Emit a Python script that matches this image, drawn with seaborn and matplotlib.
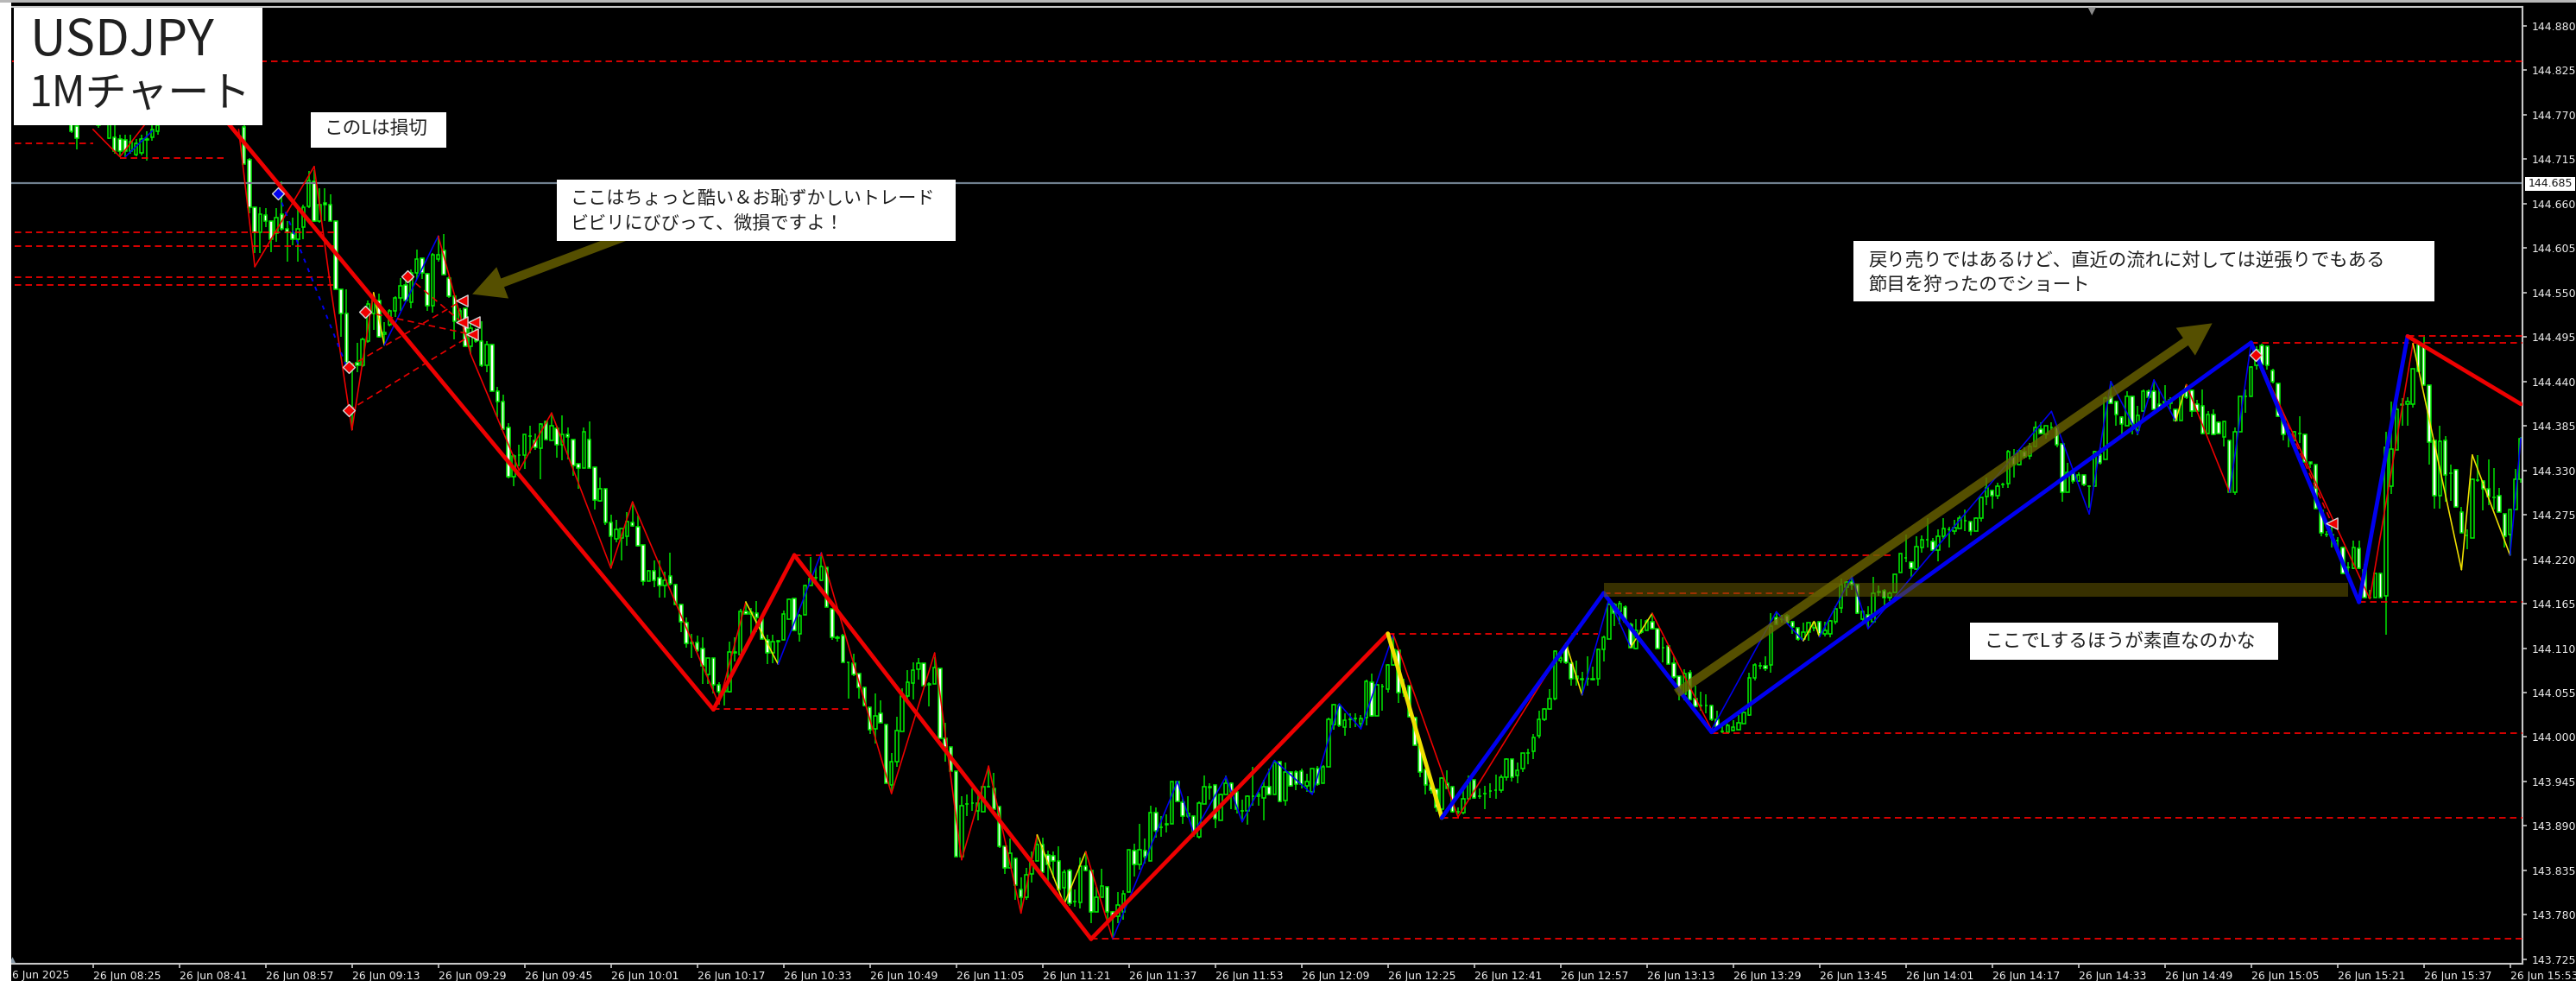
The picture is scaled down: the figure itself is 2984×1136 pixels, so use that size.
import numpy as np
import pandas as pd
import seaborn as sns
import matplotlib
matplotlib.use("Agg")
import matplotlib.pyplot as plt
from matplotlib.patches import Rectangle, FancyArrowPatch

# ---- data: prices given in points, price = 143 + points / 1000 ----
left_idx = [12, 13, 17, 19, 20, 21, 22, 23, 24, 25, 26, 27, 28]
left_open = [1770, 1756, 1770, 1741, 1742, 1740, 1739, 1725, 1721, 1723, 1739, 1742, 1750]
left_close = [1750, 1741, 1757, 1770, 1725, 1725, 1725, 1737, 1735, 1740, 1740, 1752, 1757]
left_high = [1775, 1770, 1775, 1775, 1770, 1745, 1745, 1745, 1740, 1745, 1750, 1758, 1765]
left_low = [1747, 1727, 1754, 1740, 1722, 1718, 1718, 1722, 1719, 1720, 1713, 1738, 1745]

first_idx = 44
open_pts = [
 1755,1714,1656,1625,1646,1638,1623,1647,1629,1623,
 1616,1631,1657,1688,1638,1661,1659,1638,1554,1524,
 1460,1463,1460,1490,1524,1540,1499,1510,1527,1543,
 1559,1538,1574,1593,1573,1534,1591,1602,1568,1546,
 1513,1531,1483,1502,1490,1460,1486,1428,1415,1383,
 1322,1349,1349,1372,1367,1357,1390,1367,1382,1362,
 1374,1368,1338,1333,1368,1334,1292,1307,1265,1245,
 1246,1248,1266,1260,1238,1193,1206,1197,1187,1199,
 1189,1164,1141,1117,1117,1109,1077,1098,1065,1056,
 1056,1104,1102,1155,1152,1153,1146,1120,1104,1118,
 1120,1146,1171,1128,1151,1188,1197,1194,1210,1159,
 1123,1125,1092,1091,1079,1061,1037,1010,1029,1015,
 941,970,1007,1051,1067,1084,1091,1065,1066,1085,
 998,988,958,852,917,918,909,908,939,936,
 914,865,838,850,811,802,831,847,867,854,
 853,847,813,835,796,795,840,835,783,802,
 814,783,778,783,808,859,842,859,847,906,
 888,891,893,945,919,902,902,877,917,937,
 941,897,929,943,932,909,909,927,927,925,
 938,929,969,921,957,957,958,940,932,961,
 943,963,1015,1039,1012,1022,1023,1016,1024,1068,
 1026,1062,1059,1089,1107,1055,1064,1024,989,960,
 941,935,911,943,938,908,906,924,947,927,
 930,933,934,934,950,973,952,961,980,982,
 1002,1022,1035,1048,1095,1113,1091,1072,1071,1072,
 1071,1072,1108,1121,1164,1155,1161,1139,1109,1132,
 1132,1143,1134,1111,1113,1091,1075,1053,1080,1048,
 1039,1039,1039,1022,1007,1006,1008,1009,1017,1027,
 1073,1088,1088,1089,1148,1146,1150,1143,1135,1121,
 1130,1135,1143,1128,1128,1143,1160,1185,1192,1189,
 1146,1151,1143,1179,1181,1172,1179,1203,1222,1216,
 1208,1235,1244,1242,1231,1248,1257,1255,1258,1268,
 1267,1255,1271,1298,1305,1299,1312,1314,1347,1337,
 1353,1348,1360,1381,1374,1383,1383,1363,1303,1326,
 1317,1324,1310,1310,1349,1344,1421,1415,1396,1385,
 1421,1380,1403,1428,1428,1412,1413,1417,1405,1392,
 1431,1429,1412,1410,1376,1399,1389,1371,1367,1303,
 1378,1421,1421,1460,1485,1483,1454,1438,1394,1372,
 1367,1376,1374,1340,1337,1280,1251,1251,1243,1235,
 1210,1209,1233,1207,1172,1173,1202,1175,1310,1355,
 1411,1412,1412,1486,1485,1435,1367,1299,1367,1326,
 1331,1278,1250,1246,1318,1317,1307,1297,1299,1276,
 1251,1282,1319]
close_pts = [
 1709,1656,1625,1647,1638,1616,1643,1629,1625,1616,
 1629,1656,1689,1638,1659,1659,1639,1554,1524,1463,
 1461,1460,1492,1536,1540,1495,1501,1527,1543,1558,
 1540,1574,1591,1574,1534,1597,1597,1572,1545,1515,
 1527,1483,1506,1490,1460,1486,1428,1415,1381,1322,
 1348,1349,1374,1372,1358,1387,1368,1385,1362,1374,
 1371,1336,1333,1378,1333,1293,1307,1266,1248,1257,
 1258,1267,1261,1237,1193,1206,1194,1187,1194,1190,
 1164,1143,1116,1116,1107,1088,1098,1065,1056,1058,
 1105,1105,1155,1152,1154,1148,1121,1104,1118,1119,
 1152,1170,1132,1150,1188,1196,1197,1211,1161,1123,
 1122,1092,1092,1077,1061,1039,1009,1026,1018,943,
 970,1008,1051,1068,1083,1091,1064,1066,1086,998,
 988,958,852,915,917,918,918,939,938,911,
 865,838,856,817,802,829,847,867,833,842,
 847,811,833,794,796,840,835,783,802,816,
 783,778,792,806,860,842,860,852,906,884,
 888,892,945,920,902,905,883,918,938,938,
 899,929,943,932,911,909,927,927,929,938,
 929,968,920,957,940,942,942,945,961,942,
 963,1022,1040,1014,1021,1022,1023,1023,1069,1026,
 1065,1062,1089,1108,1055,1060,1025,990,957,941,
 934,913,949,936,908,908,924,947,925,927,
 930,933,934,950,973,950,959,980,980,999,
 1022,1035,1048,1106,1098,1092,1072,1075,1072,1072,
 1072,1108,1123,1164,1153,1165,1143,1111,1132,1130,
 1144,1134,1109,1111,1090,1074,1057,1078,1046,1038,
 1039,1039,1022,1011,1007,1014,1012,1018,1030,1073,
 1089,1088,1085,1137,1139,1146,1141,1136,1121,1130,
 1141,1142,1128,1132,1144,1159,1189,1192,1189,1153,
 1155,1146,1178,1180,1173,1178,1201,1227,1222,1209,
 1236,1244,1244,1231,1248,1258,1257,1259,1271,1268,
 1255,1271,1296,1308,1299,1310,1312,1353,1337,1354,
 1347,1360,1383,1376,1385,1383,1362,1303,1328,1317,
 1324,1312,1310,1353,1339,1419,1413,1399,1387,1421,
 1387,1398,1428,1420,1406,1406,1415,1413,1392,1424,
 1420,1403,1403,1376,1399,1374,1376,1390,1303,1378,
 1421,1421,1458,1479,1461,1460,1440,1397,1374,1372,
 1378,1376,1340,1338,1283,1253,1251,1250,1243,1202,
 1210,1234,1209,1173,1172,1202,1173,1358,1356,1406,
 1412,1415,1456,1453,1435,1365,1299,1366,1324,1326,
 1285,1253,1250,1319,1318,1307,1298,1297,1278,1248,
 1281,1319,1369]
high_pts = [
 1775,1716,1656,1656,1654,1638,1654,1688,1639,1643,
 1656,1659,1700,1702,1679,1679,1672,1639,1554,1554,
 1463,1488,1494,1540,1550,1549,1513,1529,1545,1568,
 1570,1579,1603,1593,1574,1599,1620,1622,1570,1547,
 1531,1531,1511,1506,1515,1490,1486,1433,1424,1388,
 1350,1362,1375,1385,1376,1388,1392,1399,1385,1398,
 1383,1368,1338,1383,1390,1334,1321,1307,1275,1269,
 1258,1278,1291,1274,1238,1207,1218,1219,1205,1228,
 1190,1164,1148,1128,1125,1123,1098,1098,1068,1058,
 1118,1123,1159,1168,1160,1168,1148,1127,1127,1120,
 1156,1171,1171,1152,1189,1223,1211,1228,1210,1159,
 1126,1128,1092,1103,1079,1061,1037,1054,1045,1015,
 980,1025,1060,1083,1092,1098,1091,1068,1099,1085,
 1018,988,958,927,929,936,932,940,961,956,
 914,865,874,850,826,838,858,879,875,859,
 858,865,836,837,811,851,858,835,815,837,
 815,785,808,810,860,868,892,874,915,913,
 902,904,945,945,923,927,902,920,952,943,
 941,930,952,944,932,922,928,963,932,947,
 961,971,970,968,958,959,961,954,961,964,
 965,1024,1041,1041,1029,1029,1029,1027,1071,1078,
 1066,1066,1090,1126,1107,1072,1064,1025,990,960,
 941,935,950,959,938,913,934,952,947,936,
 940,943,953,953,974,973,968,980,986,1004,
 1032,1036,1059,1107,1107,1115,1091,1094,1081,1100,
 1087,1109,1125,1171,1166,1168,1163,1141,1146,1146,
 1146,1153,1134,1123,1114,1100,1075,1084,1083,1064,
 1056,1053,1039,1032,1013,1017,1021,1027,1031,1080,
 1091,1092,1100,1153,1155,1151,1152,1144,1135,1141,
 1142,1143,1143,1143,1145,1162,1196,1193,1198,1190,
 1156,1162,1198,1187,1183,1180,1201,1227,1251,1217,
 1248,1250,1271,1246,1257,1271,1260,1269,1274,1282,
 1267,1272,1296,1321,1306,1315,1315,1355,1356,1356,
 1358,1364,1390,1389,1385,1389,1383,1363,1339,1327,
 1328,1324,1311,1354,1358,1421,1440,1416,1397,1428,
 1421,1410,1430,1430,1442,1431,1435,1420,1406,1425,
 1436,1430,1417,1430,1403,1406,1390,1391,1367,1383,
 1421,1430,1459,1484,1487,1484,1456,1438,1395,1376,
 1379,1397,1375,1340,1337,1280,1255,1264,1247,1236,
 1216,1243,1243,1214,1182,1202,1202,1378,1415,1413,
 1419,1420,1456,1488,1495,1435,1368,1385,1372,1337,
 1332,1285,1257,1320,1349,1318,1343,1333,1308,1276,
 1282,1332,1371]
low_pts = [
 1709,1648,1599,1599,1631,1600,1613,1627,1588,1609,
 1588,1616,1654,1637,1636,1639,1638,1554,1495,1460,
 1380,1451,1458,1488,1504,1494,1485,1508,1520,1527,
 1540,1531,1567,1567,1527,1525,1588,1572,1543,1492,
 1511,1483,1474,1488,1458,1451,1428,1396,1381,1320,
 1310,1335,1332,1351,1355,1319,1367,1367,1346,1342,
 1344,1323,1307,1333,1333,1282,1291,1262,1209,1241,
 1219,1237,1260,1236,1187,1193,1185,1172,1172,1187,
 1163,1130,1111,1098,1105,1066,1066,1054,1040,1039,
 1055,1093,1100,1152,1127,1130,1121,1090,1091,1091,
 1120,1146,1132,1118,1151,1187,1193,1193,1161,1120,
 1118,1092,1047,1075,1048,1038,1004,992,1018,943,
 931,963,1007,1048,1046,1071,1064,1038,1066,998,
 970,958,852,850,902,909,897,908,937,911,
 863,831,838,799,785,799,820,847,833,820,
 825,810,792,791,790,788,834,770,783,802,
 774,753,770,774,808,827,836,843,847,875,
 877,882,893,920,893,900,877,874,917,922,
 887,897,929,911,905,895,891,915,915,897,
 928,929,919,915,938,934,936,932,932,940,
 943,963,1009,1012,1002,1011,1012,1011,1014,1025,
 1026,1032,1055,1088,1042,1050,1025,990,950,929,
 930,908,903,936,906,904,904,922,924,924,
 911,925,924,931,946,945,943,957,966,973,
 998,1020,1034,1045,1091,1090,1064,1064,1052,1064,
 1070,1064,1093,1121,1137,1139,1141,1110,1108,1128,
 1132,1133,1109,1092,1090,1072,1045,1045,1045,1037,
 1032,1029,1020,1011,1005,1005,1007,1009,1016,1026,
 1070,1084,1082,1080,1139,1141,1140,1128,1119,1119,
 1119,1131,1125,1124,1123,1139,1153,1175,1182,1152,
 1142,1134,1140,1175,1162,1168,1179,1203,1216,1198,
 1207,1228,1235,1230,1217,1245,1235,1251,1258,1255,
 1250,1255,1267,1287,1283,1294,1308,1308,1321,1336,
 1345,1344,1358,1374,1369,1380,1358,1291,1303,1314,
 1316,1310,1284,1310,1337,1344,1412,1385,1374,1385,
 1374,1373,1402,1418,1405,1404,1413,1405,1390,1392,
 1418,1396,1402,1375,1375,1373,1375,1360,1303,1300,
 1378,1401,1421,1455,1460,1455,1438,1396,1367,1358,
 1366,1364,1340,1333,1283,1248,1247,1235,1234,1201,
 1200,1208,1208,1173,1171,1173,1173,1127,1301,1355,
 1385,1385,1408,1452,1435,1337,1283,1283,1291,1292,
 1285,1253,1232,1246,1316,1280,1287,1282,1278,1235,
 1225,1282,1315]

thin_i = [43,46,57,60,64,68,70,80,86,95,101,112,116,132,137,143,151,164,172,177,182,188,191,196,200,205,
          217,220,226,229,235,242,247,251,257,269,289,292,297,301,305,316,328,333,335,336,342,345,379,386,
          390,395,398,402,404,412,416,438,446,455,457,464,466]
thin_pts = [1752,1582,1706,1559,1380,1550,1485,1620,1474,1330,1401,1209,1291,1041,1167,1090,1228,930,1104,848,
            964,782,879,793,858,750,945,881,951,895,971,929,1041,1010,1127,901,1116,1052,1171,1111,1153,1009,
            1155,1119,1143,1124,1199,1134,1403,1276,1440,1375,1442,1391,1436,1303,1487,1171,1487,1207,1349,1225,1370]
thin_colors = "rrrrr" "yb" "rrrrrrr" "yb" "rrrrrr" "yyr" "bbbbbbbbb" "rrybbyr" "bbyy" "bbbbbbbb" "yrbrryyyb"
left_red_i, left_red_pts = [16, 21, 27], [1752, 1718, 1770]
left_blue_i, left_blue_pts = [22, 27], [1718, 1750]

thick_i = [40, 131, 146, 201, 256, 266, 296, 316, 416, 436, 445, 466]
thick_pts = [1768, 1034, 1225, 750, 1128, 900, 1178, 1006, 1488, 1167, 1496, 1412]
thick_colors = "rrrrybbbbbr"

level_pts = [1836, 1735, 1716, 1625, 1607, 1569, 1559, 1225, 1035, 750, 1128, 900, 1178, 1005, 1488, 1496, 1167]
level_start = [1, 1.5, 21, 1.5, 1.5, 1.5, 1.5, 146, 131, 201, 256, 266, 296, 316, 416, 445, 436]
level_end = [467, 16, 41, 61, 61, 60, 60.5, 350, 156, 467, 295, 467, 335, 467, 467, 467, 467]

buy_i, buy_pts = [63.4, 63.4, 66.5, 74.3, 416.9], [1458, 1404, 1526, 1570, 1473]
blue_i, blue_pts = [50.3], [1673]
sell_i, sell_pts = [84.4, 84.4, 86.6, 86.3, 431], [1540, 1513, 1513, 1498, 1264]
trade_pairs = [(63.4, 1458, 84.4, 1540), (63.4, 1404, 86.3, 1498), (66.5, 1526, 86.3, 1498),
               (74.3, 1570, 84.4, 1513), (416.9, 1473, 431, 1264)]
blue_trade = [50.3, 63.4], [1673, 1452]

bid_pts = 1685
band_i, band_low, band_high = [296, 434], 1174, 1191
arrows = [(119.6, 1632, 86.3, 1548), (309.5, 1054, 408.8, 1512)]

ytick_labels = [f"{143.725 + 0.055 * k:.3f}" for k in range(22)]
xtick_idx = list(range(16, 16 * 29 + 1, 16))
xtick_labels = []
for k in xtick_idx:
    m = 8 * 60 + 9 + k
    xtick_labels.append(f"26 Jun {m // 60:02d}:{m % 60:02d}")

# ---- drawing ----
W, H = 2984, 1136
sns.set_theme(style="dark", rc={"axes.facecolor": "black", "figure.facecolor": "black", "axes.grid": False})
plt.rcParams["font.family"] = ["Noto Sans CJK JP", "DejaVu Sans"]

def price(p):
    return 143 + np.asarray(p, dtype=float) / 1000

fig = plt.figure(figsize=(W / 100, H / 100), dpi=100, facecolor="black")
L, R, T, B = 13, 2922, 8, 1116
ax = fig.add_axes([L / W, (H - B) / H, (R - L) / W, (B - T) / H])
ax.set_xlim(0.85, 466.3)
ax.set_ylim(price(719.4), price(1903.5))

df = pd.DataFrame({
    "i": list(left_idx) + list(range(first_idx, first_idx + len(open_pts))),
    "o": left_open + open_pts,
    "c": left_close + close_pts,
    "h": left_high + high_pts,
    "l": left_low + low_pts,
})
df["h"] = df[["o", "c", "h"]].max(axis=1)
df["l"] = df[["o", "c", "l"]].min(axis=1)
ax.vlines(df["i"], price(df["l"]), price(df["h"]), color="#00BE00", lw=1.3, zorder=1)
up = df[df["c"] >= df["o"]]
dn = df[df["c"] < df["o"]]
ax.bar(up["i"], price(up["c"]) - price(up["o"]), bottom=price(up["o"]), width=0.58,
       facecolor="black", edgecolor="#00EE00", linewidth=1.1, zorder=2)
ax.bar(dn["i"], price(dn["o"]) - price(dn["c"]), bottom=price(dn["c"]), width=0.58,
       facecolor="white", edgecolor="#00EE00", linewidth=1.1, zorder=2)

cmap = {"r": "#EE0000", "b": "#0000F0", "y": "#F0E000"}

def seg(xs, ys, color, lw, z, ls="-"):
    sns.lineplot(x=xs, y=price(ys), ax=ax, color=color, lw=lw, zorder=z, linestyle=ls,
                 estimator=None, errorbar=None, legend=False, sort=False)

for j, c in enumerate(thin_colors):
    seg(thin_i[j:j + 2], thin_pts[j:j + 2], cmap[c], 1.15, 3)
seg(left_red_i, left_red_pts, cmap["r"], 1.15, 3)
seg(left_blue_i, left_blue_pts, cmap["b"], 1.15, 3)
for j, c in enumerate(thick_colors):
    seg(thick_i[j:j + 2], thick_pts[j:j + 2], cmap[c], 3.4, 4)

ax.hlines(price(level_pts), level_start, level_end, colors="#FF0000", lw=1.2,
          linestyles=[(0, (4.5, 3))], zorder=3)
ax.axhline(price(bid_pts), color="#70808F", lw=1.6, zorder=2.5)

for a, b, c, d in trade_pairs:
    seg([a, c], [b, d], "#E80000", 1.2, 3, ls=(0, (4.5, 3)))
seg(blue_trade[0], blue_trade[1], "#0000F0", 1.4, 3, ls=(0, (2.5, 3.5)))

ax.fill_between(band_i, price(band_low), price(band_high), color="#6B5E00", alpha=0.52, lw=0, zorder=5)
for a, b, c, d in arrows:
    ax.add_patch(FancyArrowPatch((a, price(b)), (c, price(d)), shrinkA=0, shrinkB=0, mutation_scale=1,
                                 arrowstyle="simple,head_length=27,head_width=28,tail_width=7.5",
                                 color="#6B6400", alpha=0.8, lw=0, zorder=5))

sns.scatterplot(x=buy_i, y=price(buy_pts), marker="D", s=50, color="#F00000", edgecolor="#D8D8D8",
                linewidth=1.0, ax=ax, zorder=6, legend=False)
sns.scatterplot(x=blue_i, y=price(blue_pts), marker="D", s=50, color="#0000F0", edgecolor="#D8D8D8",
                linewidth=1.0, ax=ax, zorder=6, legend=False)
sns.scatterplot(x=sell_i, y=price(sell_pts), marker="<", s=90, color="#F00000", edgecolor="#D8D8D8",
                linewidth=1.0, ax=ax, zorder=6, legend=False)
sns.scatterplot(x=[386.5], y=price([1898]), marker="v", s=45, color="#8A8A8A", edgecolor="none",
                ax=ax, zorder=6, legend=False)
sns.scatterplot(x=[1.1], y=price([724]), marker="^", s=25, color="#8A9AA8", edgecolor="none",
                ax=ax, zorder=6, legend=False)

ax.set_xlabel(""); ax.set_ylabel("")
ax.yaxis.tick_right()
ax.set_yticks(price([725 + 55 * k for k in range(22)]))
ax.set_yticklabels(ytick_labels, family="DejaVu Sans", fontsize=9.0, color="#F0F0F0")
ax.set_xticks(xtick_idx)
ax.set_xticklabels(xtick_labels, ha="left", family="DejaVu Sans", fontsize=8.9, color="#F0F0F0")
ax.tick_params(axis="x", length=3.5, width=1.2, color="#C8C8C8", pad=2, bottom=True)
ax.tick_params(axis="y", length=3.5, width=1.2, color="#C8C8C8", pad=4, right=True, left=False)
for lab in ax.get_xticklabels():
    lab.set_clip_on(False)
for name, sp in ax.spines.items():
    sp.set_color("#C8C8C8"); sp.set_linewidth(1.5); sp.set_visible(name != "left")

def box(x0, y0, x1, y1, face="white", z=8):
    fig.add_artist(Rectangle((x0 / W, 1 - y1 / H), (x1 - x0) / W, (y1 - y0) / H, transform=fig.transFigure,
                             facecolor=face, edgecolor="none", zorder=z))

def label(x, y, s, size, color="#202020", ha="left", family=None):
    fig.text(x / W, 1 - y / H, s, fontsize=size, color=color, ha=ha, va="center", zorder=9,
             family=family or ["Noto Sans CJK JP", "DejaVu Sans"])

box(0, 0, 13, H)
box(0, 0, W, 3, face="#B8B8B8")
box(16, 9, 304, 145)
label(34, 48, "USDJPY", 41.5)
label(34, 109, "1Mチャート", 34.5)
box(360, 130, 517, 171)
label(375, 150, "このLは損切", 15.6)
box(645, 208, 1107, 279)
label(660, 230, "ここはちょっと酷い＆お恥ずかしいトレード", 15.2)
label(660, 259, "ビビリにびびって、微損ですよ！", 15.2)
box(2147, 279, 2820, 349)
label(2164, 302, "戻り売りではあるけど、直近の流れに対しては逆張りでもある", 15.4)
label(2164, 330, "節目を狩ったのでショート", 15.4)
box(2282, 721, 2639, 764)
label(2298, 743, "ここでLするほうが素直なのかな", 15.6)
box(2925, 205, 2983, 221)
label(2954, 213, "144.685", 9.0, color="#101010", ha="center", family="DejaVu Sans")
label(14, 1130, "6 Jun 2025", 8.9, color="#F0F0F0", family="DejaVu Sans")

fig.savefig("out.png", dpi=100, facecolor="black")
